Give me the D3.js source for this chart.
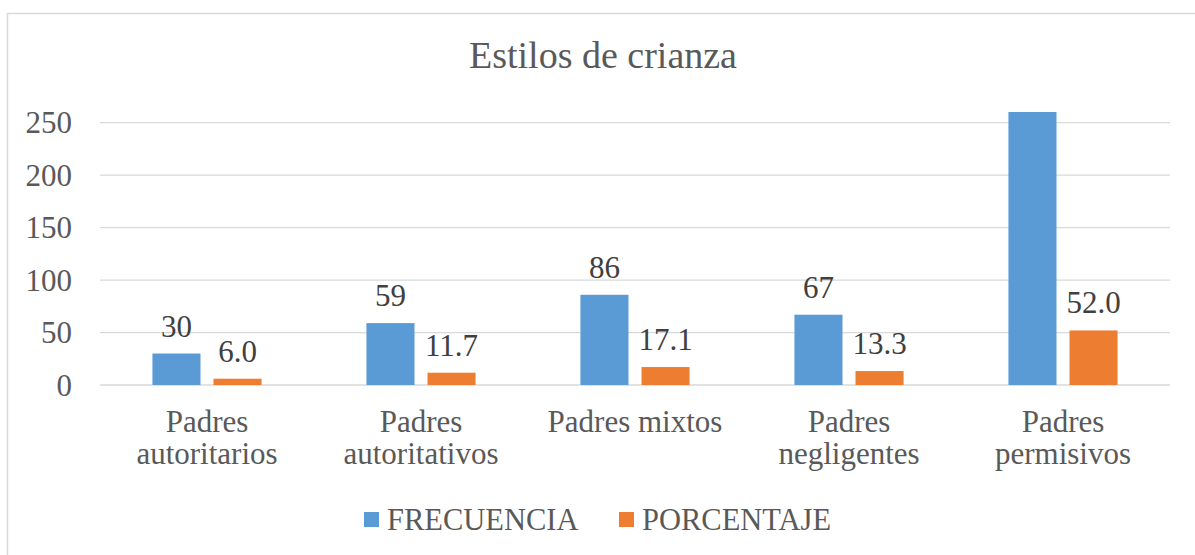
<!DOCTYPE html>
<html><head><meta charset="utf-8">
<script src="https://cdn.jsdelivr.net/npm/d3@7"></script>
<style>body{margin:0;background:#fff}svg{display:block}</style>
</head><body>
<svg id="c" width="1195" height="555"></svg>
<script>
const categories = ["Padres autoritarios","Padres autoritativos","Padres mixtos","Padres negligentes","Padres permisivos"];
const seriesNames = ["FRECUENCIA","PORCENTAJE"];
const frecuencia = [30, 59, 86, 67, 261];
const porcentaje = [6.0, 11.7, 17.1, 13.3, 52.0];
const yTicks = [0, 50, 100, 150, 200, 250];
const colors = ["#5b9bd5", "#ed7d31"];

const svg = d3.select("#c");
const font = "'Liberation Serif','Times New Roman',serif";
const m = {left:100, right:1170, top:112, bottom:385};
const yMax = 260.2;

// frame
svg.append("path").attr("d","M7.5,555 V13.5 H1195").attr("fill","none").attr("stroke","#d9d9d9").attr("stroke-width",1.5);

const x0 = d3.scaleBand().domain(categories).range([m.left, m.right]).paddingInner(0.49).paddingOuter(0.245);
const x1 = d3.scaleBand().domain(seriesNames).range([0, x0.bandwidth()]).paddingInner(0.213);
const y = d3.scaleLinear().domain([0, yMax]).range([m.bottom, m.top]);

// gridlines
svg.append("g").selectAll("line").data(yTicks).join("line")
  .attr("x1", m.left).attr("x2", m.right)
  .attr("y1", d=>y(d)).attr("y2", d=>y(d))
  .attr("stroke", "#d9d9d9").attr("stroke-width", 1.3);

// y axis labels
const yAxis = d3.axisLeft(y).tickValues(yTicks).tickSize(0).tickPadding(0);
const ga = svg.append("g").attr("transform", `translate(72,0)`).call(yAxis);
ga.select(".domain").remove();
ga.selectAll("text").attr("font-family", font).attr("font-size", 31).attr("fill", "#595959").attr("dy","0.33em");

// clip
svg.append("clipPath").attr("id","pc").append("rect")
  .attr("x", m.left).attr("y", m.top).attr("width", m.right-m.left).attr("height", m.bottom-m.top);

const data = categories.map((c,i)=>({cat:c, vals:[frecuencia[i], porcentaje[i]]}));
const groups = svg.append("g").attr("clip-path","url(#pc)").selectAll("g").data(data).join("g")
  .attr("transform", d=>`translate(${x0(d.cat)},0)`);
groups.selectAll("rect").data(d=>d.vals.map((v,j)=>({v, s:seriesNames[j], j}))).join("rect")
  .attr("x", d=>x1(d.s)).attr("width", x1.bandwidth())
  .attr("y", d=>y(d.v)).attr("height", d=>m.bottom - y(d.v))
  .attr("fill", d=>colors[d.j]);

// data labels
const lab = svg.append("g");
data.forEach((d,i)=>{
  d.vals.forEach((v,j)=>{
    const ty = y(v) - 17;
    if (ty - 22 < m.top - 5) return;
    lab.append("text")
      .attr("x", x0(d.cat) + x1(seriesNames[j]) + x1.bandwidth()/2)
      .attr("y", ty)
      .attr("text-anchor","middle").attr("font-family", font).attr("font-size", 31).attr("fill","#404040")
      .text(j===1 ? v.toFixed(1) : String(v));
  });
});

// category labels (wrapped onto separate lines when wider than the band step)
const catG = svg.append("g");
categories.forEach(c=>{
  const cx = x0(c) + x0.bandwidth()/2;
  const probe = catG.append("text").attr("font-family", font).attr("font-size", 31).text(c);
  const wide = probe.node().getComputedTextLength() > x0.step();
  probe.remove();
  const words = c.split(" ");
  const lines = wide ? [words[0], words.slice(1).join(" ")] : [c];
  lines.forEach((ln,k)=>{
    catG.append("text").attr("x", cx).attr("y", 432 + k*32).attr("text-anchor","middle")
      .attr("font-family", font).attr("font-size", 31).attr("fill","#595959").text(ln);
  });
});

// title
svg.append("text").attr("x", 603).attr("y", 68).attr("text-anchor","middle")
  .attr("font-family", font).attr("font-size", 38).attr("fill","#595959").text("Estilos de crianza");

// legend
const lg = svg.append("g");
const legX = [364, 619];
seriesNames.forEach((s,j)=>{
  lg.append("rect").attr("x", legX[j]).attr("y", 512).attr("width", 15).attr("height", 15).attr("fill", colors[j]);
  lg.append("text").attr("x", legX[j] + 23).attr("y", 530).attr("font-family", font).attr("font-size", 30.5)
    .attr("fill","#595959").text(s);
});
</script>
</body></html>
